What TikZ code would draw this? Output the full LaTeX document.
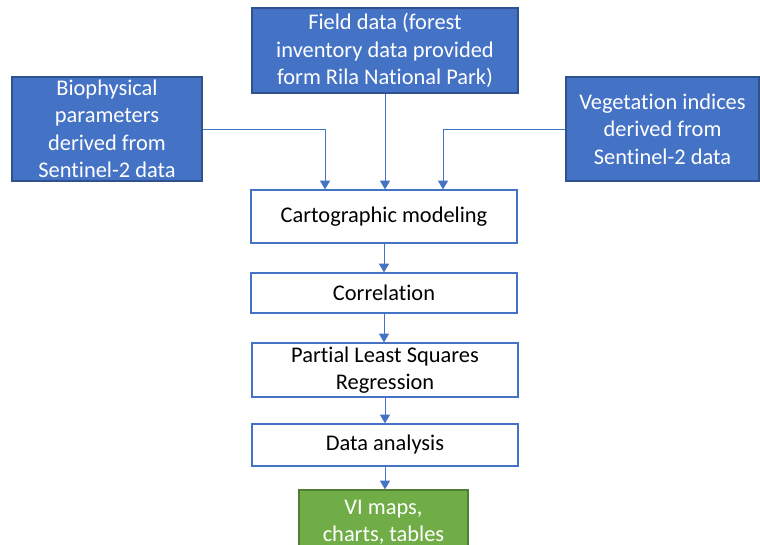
\documentclass[tikz,border=0pt]{standalone}
\usepackage{fontspec}
\setmainfont{Carlito}[Ligatures=CommonOff]
\usetikzlibrary{arrows.meta}
\definecolor{boxblue}{HTML}{4472C4}
\definecolor{darkblue}{HTML}{2F528F}
\definecolor{boxgreen}{HTML}{70AD47}
\definecolor{darkgreen}{HTML}{507E32}

\begin{document}
\begin{tikzpicture}[x=0.75pt,y=-0.75pt,
    input/.style={rectangle, draw=darkblue, fill=boxblue, line width=1pt, text=white, align=center, inner sep=0pt},
    step box/.style={rectangle, draw=boxblue, fill=white, line width=1pt, align=center, minimum width=199.5pt, inner sep=0pt},
    output/.style={rectangle, draw=darkgreen, fill=boxgreen, line width=1pt, text=white, align=center, inner sep=0pt},
    link/.style={draw=boxblue, line width=0.75pt, -{Triangle[width=7.5pt,length=6.5pt]}},
    font=\fontsize{16.8}{20.6}\selectfont]
    \useasboundingbox (0,0) rectangle (760,544);

    % inputs
    \node [input, minimum width=199.5pt, minimum height=63.75pt] (field) at (385,50.5) {Field data (forest\\inventory data provided\\form Rila National Park)};
    \node [input, minimum width=142.5pt, minimum height=78pt] (bio) at (107,129) {Biophysical\\parameters\\derived from\\Sentinel-2 data};
    \node [input, minimum width=144.75pt, minimum height=78pt] (veg) at (662.5,129) {Vegetation indices\\derived from\\Sentinel-2 data};

    % processing chain
    \node [step box, minimum height=39.75pt] (carto) at (384,216.5) {Cartographic modeling};
    \node [step box, minimum height=30pt] (corr) at (384,293) {Correlation};
    \node [step box, minimum height=40.5pt] (pls) at (385,370) {Partial Least Squares\\Regression};
    \node [step box, minimum height=31.5pt] (analysis) at (385,445) {Data analysis};
    \node [output, minimum width=126.75pt, minimum height=48pt] (maps) at (383.5,522) {VI maps,\\charts, tables};

    \draw [link] (bio.east) -| ([xshift=-44.25pt]carto.north);
    \draw [link] (field.south) -- (field.south |- carto.north);
    \draw [link] (veg.west) -| ([xshift=44.25pt]carto.north);
    \draw [link] (carto) -- (corr);
    \draw [link] (corr) -- (corr |- pls.north);
    \draw [link] (pls) -- (analysis);
    \draw [link] (analysis) -- (analysis |- maps.north);
\end{tikzpicture}
\end{document}
